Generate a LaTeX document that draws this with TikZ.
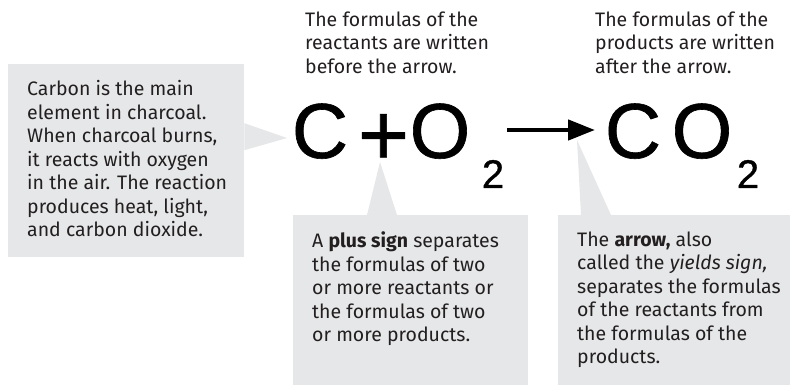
\documentclass[tikz,border=0pt]{standalone}
\usepackage{fontspec}
\setmainfont{Fira Sans}
\newfontfamily\eqfont{Liberation Sans}[FakeBold=0.8]
\usetikzlibrary{arrows.meta}
\definecolor{boxgray}{HTML}{E6E7E8}
\definecolor{ink}{HTML}{231F20}

\begin{document}
\begin{tikzpicture}[x=1pt, y=-1pt,
  notebox/.style={fill=boxgray, inner sep=0pt, anchor=north west},
  note/.style={anchor=north west, inner sep=0pt, align=left, text=ink, font=\fontsize{19.5}{23.5}\selectfont, execute at begin node=\strut},
  formula/.style={anchor=base, inner sep=0pt, font=\eqfont\fontsize{78}{78}\selectfont},
  subscript/.style={anchor=base, inner sep=0pt, font=\eqfont\fontsize{40}{40}\selectfont},
  yields/.style={line width=4.5pt, -{Triangle[length=27pt, width=20pt]}},
  pointer/.style={fill=boxgray}
]
  \useasboundingbox (0,0) rectangle (790,387);

  % grey note boxes
  \node[notebox, minimum width=236pt, minimum height=193pt] (carbonbox) at (8,64) {};
  \node[notebox, minimum width=235pt, minimum height=170pt] (plusbox) at (293,215) {};
  \node[notebox, minimum width=232pt, minimum height=170pt] (arrowbox) at (558,215) {};

  % pointers
  \coordinate (tipC) at (287,138);
  \coordinate (tipPlus) at (380,162);
  \coordinate (tipArrow) at (577,140);
  \fill[pointer] ([yshift=37.5pt]carbonbox.east) -- (tipC) -- ([yshift=10.5pt]carbonbox.east) -- cycle;
  \fill[pointer] ([xshift=74pt]plusbox.north west) -- (tipPlus) -- ([xshift=104pt]plusbox.north west) -- cycle;
  \fill[pointer] ([xshift=23pt]arrowbox.north west) -- (tipArrow) -- ([xshift=53pt]arrowbox.north west) -- cycle;

  % the equation
  \node[formula] (carbon) at (320,158) {C};
  \node[formula, font=\eqfont\fontsize{88}{88}\selectfont] (plus) at (383.5,165) {+};
  \node[formula] (oxygen) at (440,158) {O};
  \node[subscript] (oxysub) at (493,188) {2};
  \node[formula] (carbontwo) at (633,158) {C};
  \node[formula] (oxytwo) at (702,158) {O};
  \node[subscript] (dioxsub) at (748,188) {2};
  \coordinate (yieldfrom) at (507,130);
  \coordinate (yieldto) at (595,130);
  \draw[yields] (yieldfrom) -- (yieldto);

  % texts
  \node[note] (reacttext) at (305,11.5) {The formulas of the\\reactants are written\\before the arrow.};
  \node[note] (prodtext) at (595,11.5) {The formulas of the\\products are written\\after the arrow.};
  \node[note] (carbontext) at ([xshift=19pt, yshift=-16.5pt]carbonbox.north west)
    {Carbon is the main\\element in charcoal.\\When charcoal burns,\\it reacts with oxygen\\in the air. The reaction\\produces heat, light,\\and carbon dioxide.};
  \node[note] (plustext) at ([xshift=19pt, yshift=-16.5pt]plusbox.north west)
    {A \textbf{plus sign} separates\\the formulas of two\\or more reactants or\\the formulas of two\\or more products.};
  \node[note] (arrowtext) at ([xshift=19pt, yshift=-16.5pt]arrowbox.north west)
    {The \textbf{arrow,} also\\called the \textit{yields sign,}\\separates the formulas\\of the reactants from\\the formulas of the\\products.};
\end{tikzpicture}
\end{document}
